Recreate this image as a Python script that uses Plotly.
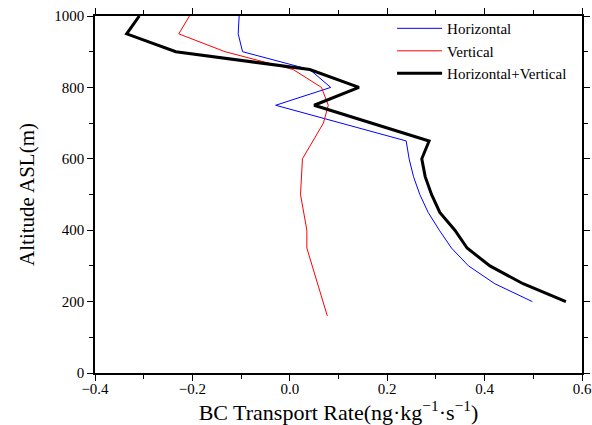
import plotly.graph_objects as go

# Altitude levels (m ASL)
alt_h = [1000, 950, 900, 850, 800, 750, 650, 600, 550, 500, 450, 400, 350, 300, 250, 200]
alt_v = [1000, 950, 900, 850, 800, 750, 700, 650, 600, 500, 400, 350, 160]
alt_hv = [1000, 950, 900, 850, 800, 750, 650, 600, 550, 500, 450, 400, 350, 300, 250, 200]

# BC transport rates (ng kg^-1 s^-1)
horizontal = [-0.104, -0.106, -0.097, 0.041, 0.084, -0.029, 0.239, 0.245, 0.254,
              0.267, 0.284, 0.307, 0.332, 0.367, 0.421, 0.498]
vertical = [-0.206, -0.228, -0.133, 0.007, 0.065, 0.079, 0.069, 0.048, 0.026,
            0.022, 0.035, 0.035, 0.077]
horiz_vert = [-0.309, -0.335, -0.234, 0.041, 0.142, 0.050, 0.286, 0.271, 0.278,
              0.291, 0.308, 0.339, 0.364, 0.411, 0.479, 0.567]

FONT = "Liberation Serif"

fig = go.Figure()
fig.add_trace(go.Scatter(x=horizontal, y=alt_h, mode="lines", name="Horizontal",
                         line=dict(color="#0000ff", width=1)))
fig.add_trace(go.Scatter(x=vertical, y=alt_v, mode="lines", name="Vertical",
                         line=dict(color="#ff0000", width=1)))
fig.add_trace(go.Scatter(x=horiz_vert, y=alt_hv, mode="lines", name="Horizontal+Vertical",
                         line=dict(color="#000000", width=3)))

axis_common = dict(
    showline=True, linecolor="black", linewidth=1.5, mirror="allticks",
    ticks="outside", ticklen=6, tickwidth=1, tickcolor="black",
    showgrid=False, zeroline=False, automargin=False,
    tickfont=dict(family=FONT, size=15, color="black"),
)

fig.update_xaxes(
    range=[-0.4, 0.6], dtick=0.2, tick0=-0.4, tickformat=".1f",
    ticklabelstandoff=-5,
    minor=dict(dtick=0.1, ticks="outside", ticklen=4, tickcolor="black"),
    title=dict(text="BC Transport Rate(ng·kg<sup>−1</sup>·s<sup>−1</sup>)",
               font=dict(family=FONT, size=22, color="black"), standoff=8),
    **axis_common,
)
fig.update_yaxes(
    range=[0, 1000], dtick=200,
    minor=dict(dtick=100, ticks="outside", ticklen=4, tickcolor="black"),
    title=dict(text="Altitude ASL(m)",
               font=dict(family=FONT, size=21, color="black"), standoff=14),
    **axis_common,
)

fig.update_layout(
    width=592, height=425,
    margin=dict(l=95, r=10, t=16, b=52),
    plot_bgcolor="white", paper_bgcolor="white",
    legend=dict(x=0.61, y=1.011, xanchor="left", yanchor="top",
                bgcolor="rgba(0,0,0,0)", borderwidth=0,
                font=dict(family=FONT, size=15, color="black"),
                itemwidth=45, tracegroupgap=0),
    showlegend=True,
)

fig.write_html("out.html")
